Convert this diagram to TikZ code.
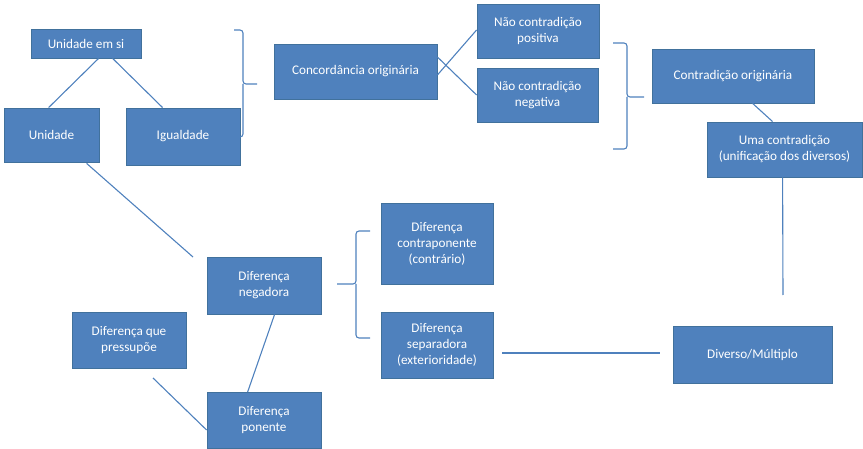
\documentclass[tikz,border=0pt]{standalone}
\usepackage{fontspec}
\setmainfont{Carlito}
\definecolor{boxfill}{HTML}{4F81BD}
\definecolor{boxline}{HTML}{41719C}
\definecolor{conn}{HTML}{4F81BD}
\begin{document}
\begin{tikzpicture}[x=1pt,y=-1pt,
  box/.style={draw=boxline, line width=0.8pt, fill=boxfill, text=white, align=center,
    inner sep=0pt, font=\fontsize{13.2}{16}\selectfont},
  link/.style={draw=conn, line width=1.1pt},
  brace/.style={draw=conn, line width=1.1pt, rounded corners=3pt}]
\useasboundingbox (0,0) rectangle (863,449);
% boxes
\node[box, minimum width=110pt, minimum height=29pt] (usi) at (86,43.5) {Unidade em si};
\node[box, minimum width=95pt, minimum height=54pt] (uni) at (51.5,135) {Unidade};
\node[box, minimum width=114pt, minimum height=57pt] (igu) at (183,136.5) {Igualdade};
\node[box, minimum width=163pt, minimum height=55pt] (con) at (355.5,71.5) {Concordância originária};
\node[box, minimum width=122pt, minimum height=54pt] (ncp) at (538,31) {Não contradição\\positiva};
\node[box, minimum width=121pt, minimum height=54pt] (ncn) at (537.5,95) {Não contradição\\negativa};
\node[box, minimum width=162pt, minimum height=54pt] (cor) at (733,76) {Contradição originária};
\node[box, minimum width=155pt, minimum height=55pt] (uma) at (784.5,149.5) {Uma contradição\\(unificação dos diversos)};
\node[box, minimum width=114pt, minimum height=57pt] (neg) at (264,285.5) {Diferença\\negadora};
\node[box, minimum width=114pt, minimum height=56pt] (pre) at (129,340) {Diferença que\\pressupõe};
\node[box, minimum width=114pt, minimum height=56pt] (pon) at (264,420.5) {Diferença\\ponente};
\node[box, minimum width=112pt, minimum height=81pt] (ctp) at (437,243.5) {Diferença\\contraponente\\(contrário)};
\node[box, minimum width=112pt, minimum height=66pt] (sep) at (437,345) {Diferença\\separadora\\(exterioridade)};
\node[box, minimum width=159pt, minimum height=57pt] (div) at (752.5,354.5) {Diverso/Múltiplo};
% free ends
\coordinate (negend) at (193,257);
\coordinate (umaend) at (783,295);
\coordinate (preend) at (153,378);
\coordinate (sepend) at (502,353);
\coordinate (divend) at (660,353);
% connectors
\draw[link] ([xshift=68pt]usi.south west) -- ([xshift=45pt]uni.north west);
\draw[link] ([xshift=82pt]usi.south west) -- ([xshift=37pt]igu.north west);
\draw[link] ([xshift=83pt,yshift=-1pt]uni.south west) -- (negend);
\draw[link] ([yshift=-3.5pt]con.east) -- ([yshift=1pt]ncp.west);
\draw[link] ([yshift=14.5pt]con.east) -- ([yshift=0pt]ncn.west);
\draw[link] ([xshift=101pt]cor.south west) -- ([xshift=66pt]uma.north west);
\draw[link] ([xshift=76pt]uma.south west) -- (umaend);
\draw[link] ([xshift=68pt]neg.south west) -- ([xshift=41pt]pon.north west);
\draw[link] (preend) -- ([yshift=-9.5pt]pon.west);
\draw[link] (sepend) -- (divend);
% braces
\draw[brace] (234,30) -- (243,30) -- (243,84) -- (257,84);
\draw[brace] (243,84) -- (243,137) -- (238,137);
\draw[brace] (613,43) -- (627,43) -- (627,97) -- (644,97);
\draw[brace] (627,97) -- (627,149) -- (613,149);
\draw[brace] (370,231) -- (356,231) -- (356,284) -- (337,284);
\draw[brace] (356,284) -- (356,338) -- (370,338);
\end{tikzpicture}
\end{document}
